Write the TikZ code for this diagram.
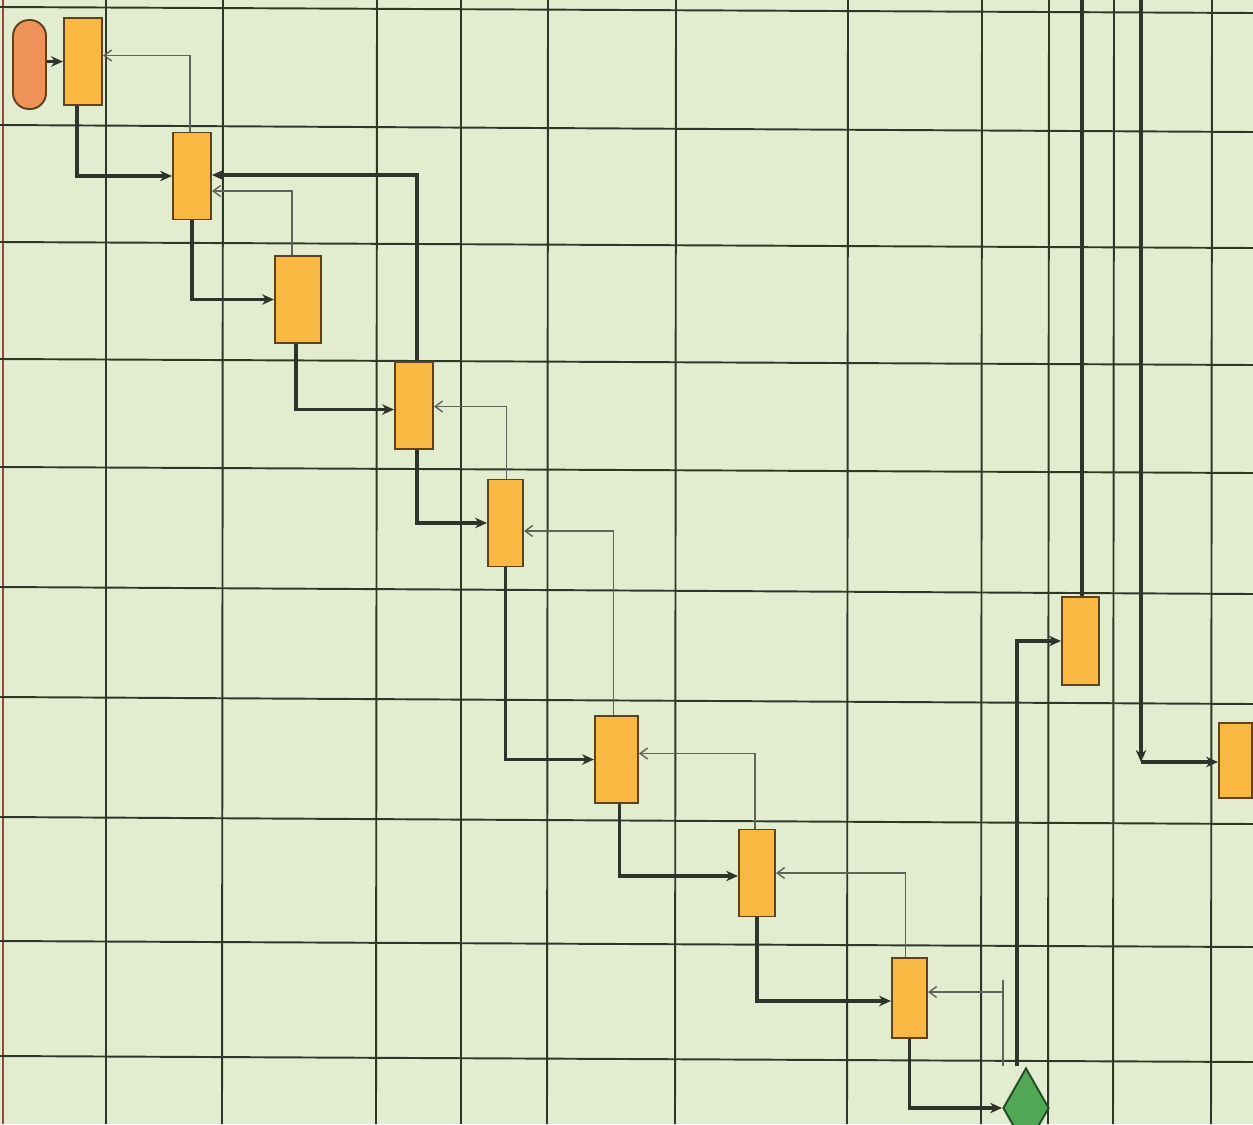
\documentclass[tikz,border=0pt]{standalone}
\usetikzlibrary{arrows.meta,shapes.geometric,calc}
\definecolor{paper}{RGB}{226,236,207}
\definecolor{rule}{RGB}{45,55,42}
\definecolor{edge}{RGB}{150,70,60}
\definecolor{taskfill}{RGB}{248,184,66}
\definecolor{taskline}{RGB}{95,65,30}
\definecolor{startfill}{RGB}{238,146,90}
\definecolor{decfill}{RGB}{80,168,84}
\definecolor{decline}{RGB}{35,75,38}
\definecolor{wire}{RGB}{48,50,44}
\definecolor{wireback}{RGB}{95,100,90}
\begin{document}
\begin{tikzpicture}[x=0.2mm,y=-0.2mm,>={Stealth[length=2.4mm,width=2.1mm]},
	gridline/.style={rule,line width=1.1pt},
	task/.style={draw=taskline,fill=taskfill,line width=1.1pt,inner sep=0pt,minimum width=7.4mm,minimum height=17.4mm},
	flow/.style={->,wire,line width=1.9pt},
	back/.style={-{Straight Barb[length=1.5mm,width=2.2mm]},wireback,line width=0.8pt}]
	\useasboundingbox (0,0) rectangle (1253,1124);
	\fill[paper] (0,0) rectangle (1253,1124);
	
	% raster
	\draw[edge,line width=1.1pt] (3,0)--(3,1124);
	\draw[gridline] (106,0)--(106,1124);
	\draw[gridline] (223,0)--(222,1124);
	\draw[gridline] (377,0)--(376,1124);
	\draw[gridline] (461,0)--(461,1124);
	\draw[gridline] (548,0)--(547,1124);
	\draw[gridline] (676,0)--(675,1124);
	\draw[gridline] (848,0)--(847,1124);
	\draw[gridline] (982,0)--(981,1124);
	\draw[gridline] (1049,0)--(1048,1124);
	\draw[gridline] (1114,0)--(1113,1124);
	\draw[gridline] (1212,0)--(1211,1124);
	\draw[gridline] (0,7)--(1253,13);
	\draw[gridline] (0,125)--(1253,132);
	\draw[gridline] (0,242)--(1253,248);
	\draw[gridline] (0,359)--(1253,365);
	\draw[gridline] (0,467)--(1253,473);
	\draw[gridline] (0,587)--(1253,594);
	\draw[gridline] (0,697)--(1253,704);
	\draw[gridline] (0,817)--(1253,824);
	\draw[gridline] (0,941)--(1253,947);
	\draw[gridline] (0,1056)--(1253,1062);
	
	% steps
	\node[task,draw=taskline,fill=startfill,minimum width=6.6mm,minimum height=17.8mm,rounded corners=3.2mm] (start) at (29.5,64.5) {};
	\node[task,minimum width=7.6mm] (t1) at (83,61.5) {};
	\node[task,minimum width=7.6mm] (t2) at (192,176) {};
	\node[task,minimum width=9.2mm] (t3) at (298,299.5) {};
	\node[task,minimum width=7.6mm] (t4) at (414,405.5) {};
	\node[task,minimum width=7mm] (t5) at (505.5,523) {};
	\node[task,minimum width=8.6mm] (t6) at (616.5,759.5) {};
	\node[task,minimum width=7.2mm] (t7) at (757,873) {};
	\node[task,minimum width=7mm,minimum height=16mm] (t8) at (909.5,998) {};
	\node[task,minimum width=7.4mm,minimum height=17.6mm] (t9) at (1080.5,641) {};
	\node[task,minimum width=6.6mm,minimum height=15mm] (t10) at (1235.5,760.5) {};
	\node[diamond,draw=decline,fill=decfill,line width=1.1pt,inner sep=0pt,minimum width=9.2mm,minimum height=16mm] (dec) at (1026,1108) {};
	
	\coordinate (backlow) at (1003,1066);
	\coordinate (backtop) at (1003,980);
	\coordinate (backarm) at (1003,992);
	\coordinate (uplow) at (1017,1066);
	\coordinate (outtop) at (1082,0);
	\coordinate (intop) at (1141,0);
	\coordinate (join) at (1141,762);
	
	% forward
	\draw[flow] (start.east |- t1.west)--(t1.west);
	\draw[flow] ($(t1.south)+(-6,0)$) |- (t2.west);
	\draw[flow] (t2.south) |- (t3.west);
	\draw[flow] ($(t3.south)+(-2,0)$) |- ($(t4.west)+(0,4)$);
	\draw[flow] ($(t4.south)+(3,0)$) |- (t5.west);
	\draw[flow] (t5.south) |- (t6.west);
	\draw[flow] ($(t6.south)+(3,0)$) |- ($(t7.west)+(0,3)$);
	\draw[flow] (t7.south) |- ($(t8.west)+(0,3)$);
	\draw[flow] (t8.south) |- (dec.west);
	\draw[flow] (uplow) |- (t9.west);
	\draw[wire,line width=1.9pt] (outtop)--(outtop |- t9.north);
	\draw[flow] (intop)--(join);
	\draw[flow] (join)--(join -| t10.west);
	
	% back
	\draw[back] ($(t2.north)+(-2,0)$) |- ($(t1.east)+(0,-6)$);
	\draw[back] ($(t3.north)+(-6,0)$) |- ($(t2.east)+(0,15)$);
	\draw[flow] ($(t4.north)+(3,0)$) |- ($(t2.east)+(0,-1)$);
	\draw[back] ($(t5.north)+(1,0)$) |- ($(t4.east)+(0,1)$);
	\draw[back] ($(t6.north)+(-3,0)$) |- ($(t5.east)+(0,8)$);
	\draw[back] ($(t7.north)+(-2,0)$) |- ($(t6.east)+(0,-6)$);
	\draw[back] ($(t8.north)+(-4,0)$) |- (t7.east);
	\draw[wireback,line width=0.8pt] (backlow)--(backtop);
	\draw[back] (backarm)--(backarm -| t8.east);
\end{tikzpicture}
\end{document}
